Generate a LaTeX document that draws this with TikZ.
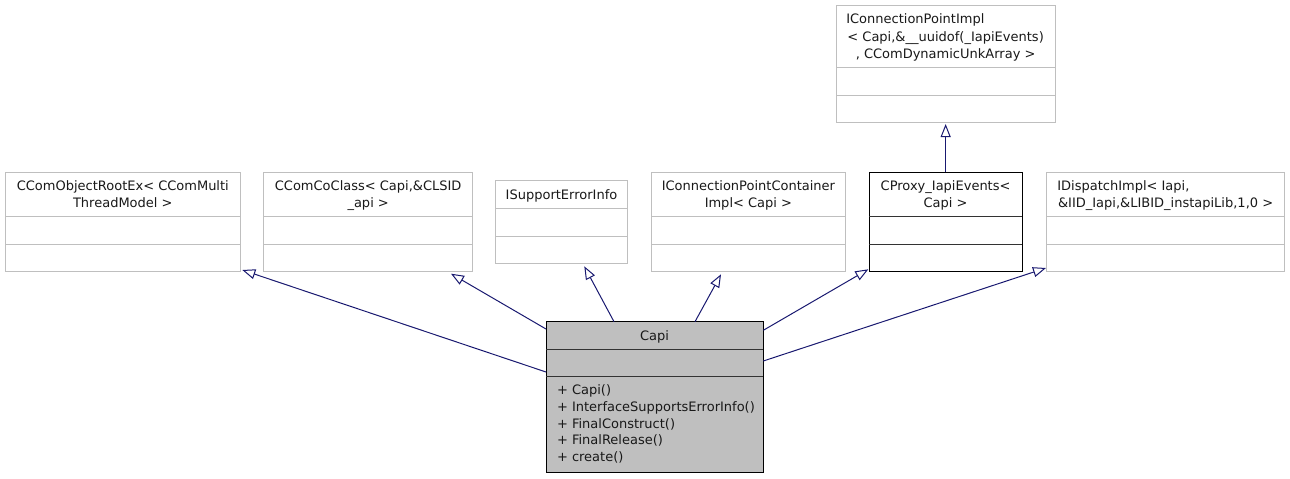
\documentclass[tikz,border=0pt]{standalone}
\usepackage{fontspec}
\setmainfont{DejaVu Sans}
\usetikzlibrary{arrows.meta,calc}
\definecolor{edgeblue}{HTML}{191970}
\definecolor{boxgray}{HTML}{BFBFBF}
\definecolor{capifill}{HTML}{BFBFBF}
\tikzset{
  cls/.style={draw=boxgray, fill=white, line width=1pt, inner sep=0pt, outer sep=0pt, anchor=north west},
  clsdark/.style={cls, draw=black},
  clsmain/.style={cls, draw=black, fill=capifill},
  divgray/.style={draw=boxgray, line width=1pt},
  divdark/.style={draw=black!80, line width=1pt},
  lbl/.style={inner sep=0pt, outer sep=0pt, font=\fontsize{13}{16}\selectfont, text=black!90},
  inherit/.style={draw=edgeblue, line width=1pt, -{Triangle[open, length=13pt, width=10pt]}}
}
\begin{document}
\begin{tikzpicture}[x=1pt,y=-1pt]
\useasboundingbox (0,0) rectangle (1290,479);

% ---- boxes ----
\node[cls, minimum width=235.7pt, minimum height=99.7pt] (root) at (5,172) {};
\node[cls, minimum width=209pt, minimum height=99.7pt] (coclass) at (263.7,172) {};
\node[cls, minimum width=131.6pt, minimum height=82.6pt] (ise) at (495.7,180.7) {};
\node[cls, minimum width=194.7pt, minimum height=99.7pt] (cpc) at (651,172) {};
\node[clsdark, minimum width=153.3pt, minimum height=99.7pt] (proxy) at (869,172) {};
\node[cls, minimum width=237.6pt, minimum height=99.7pt] (disp) at (1046.7,172) {};
\node[cls, minimum width=219.3pt, minimum height=117pt] (cpi) at (836,5.7) {};
\node[clsmain, minimum width=217.3pt, minimum height=150.6pt] (capi) at (546,321.7) {};

% ---- compartment dividers ----
\draw[divgray] ($(root.north west)+(0,44.7)$) -- ($(root.north east)+(0,44.7)$);
\draw[divgray] ($(root.north west)+(0,72.3)$) -- ($(root.north east)+(0,72.3)$);
\draw[divgray] ($(coclass.north west)+(0,44.7)$) -- ($(coclass.north east)+(0,44.7)$);
\draw[divgray] ($(coclass.north west)+(0,72.3)$) -- ($(coclass.north east)+(0,72.3)$);
\draw[divgray] ($(ise.north west)+(0,27.6)$) -- ($(ise.north east)+(0,27.6)$);
\draw[divgray] ($(ise.north west)+(0,55.3)$) -- ($(ise.north east)+(0,55.3)$);
\draw[divgray] ($(cpc.north west)+(0,44.7)$) -- ($(cpc.north east)+(0,44.7)$);
\draw[divgray] ($(cpc.north west)+(0,72.3)$) -- ($(cpc.north east)+(0,72.3)$);
\draw[divdark] ($(proxy.north west)+(0,44.7)$) -- ($(proxy.north east)+(0,44.7)$);
\draw[divdark] ($(proxy.north west)+(0,72.3)$) -- ($(proxy.north east)+(0,72.3)$);
\draw[divgray] ($(disp.north west)+(0,44.7)$) -- ($(disp.north east)+(0,44.7)$);
\draw[divgray] ($(disp.north west)+(0,72.3)$) -- ($(disp.north east)+(0,72.3)$);
\draw[divgray] ($(cpi.north west)+(0,62)$) -- ($(cpi.north east)+(0,62)$);
\draw[divgray] ($(cpi.north west)+(0,89.6)$) -- ($(cpi.north east)+(0,89.6)$);
\draw[divdark] ($(capi.north west)+(0,27.3)$) -- ($(capi.north east)+(0,27.3)$);
\draw[divdark] ($(capi.north west)+(0,55)$) -- ($(capi.north east)+(0,55)$);

% ---- labels ----
\node[lbl, anchor=base] (t1a) at (122.8,190.4) {CComObjectRootEx< CComMulti};
\node[lbl, anchor=base] (t1b) at (122.8,207) {ThreadModel >};
\node[lbl, anchor=base] (t2a) at (368.2,190.4) {CComCoClass< Capi,\&CLSID};
\node[lbl, anchor=base] (t2b) at (368.2,207) {\_api >};
\node[lbl, anchor=base] (t3a) at (561.5,199) {ISupportErrorInfo};
\node[lbl, anchor=base] (t4a) at (748.4,190.4) {IConnectionPointContainer};
\node[lbl, anchor=base] (t4b) at (748.4,207) {Impl< Capi >};
\node[lbl, anchor=base] (t5a) at (945.6,190.4) {CProxy\_IapiEvents<};
\node[lbl, anchor=base] (t5b) at (945.6,207) {Capi >};
\node[lbl, anchor=base west] (t6a) at (1057.3,190.4) {IDispatchImpl< Iapi,};
\node[lbl, anchor=base] (t6b) at (1165.6,207) {\&IID\_Iapi,\&LIBID\_instapiLib,1,0 >};
\node[lbl, anchor=base west] (t7a) at (846.3,23.7) {IConnectionPointImpl};
\node[lbl, anchor=base] (t7b) at (945.6,41.4) {< Capi,\&\_\_uuidof(\_IapiEvents)};
\node[lbl, anchor=base] (t7c) at (945.6,58.7) {, CComDynamicUnkArray >};
\node[lbl, anchor=base] (t8a) at (654.6,340.4) {Capi};
\node[lbl, anchor=base west] (m1) at (557,394.7) {+ Capi()};
\node[lbl, anchor=base west] (m2) at (557,411.4) {+ InterfaceSupportsErrorInfo()};
\node[lbl, anchor=base west] (m3) at (557,428.1) {+ FinalConstruct()};
\node[lbl, anchor=base west] (m4) at (557,444.8) {+ FinalRelease()};
\node[lbl, anchor=base west] (m5) at (557,461.5) {+ create()};

% ---- inheritance connectors ----
\draw[inherit] ($(capi.north west)+(0,50.3)$) -- ($(root.south east)+(1.6,-1.7)$);
\draw[inherit] ($(capi.north west)+(0,7.3)$) -- ($(coclass.south east)+(-21.7,2)$);
\draw[inherit] ($(capi.north west)+(68,0)$) -- ($(ise.south west)+(88.6,3)$);
\draw[inherit] ($(capi.north west)+(149,0)$) -- ($(cpc.south west)+(70,2.6)$);
\draw[inherit] ($(capi.north east)+(0,8.6)$) -- ($(proxy.south west)+(-0.7,-2.4)$);
\draw[inherit] ($(capi.north east)+(0,39.3)$) -- ($(disp.south west)+(-0.7,-3.7)$);
\draw[inherit] (proxy.north) -- ($(cpi.south)+(0,1.3)$);
\end{tikzpicture}
\end{document}
